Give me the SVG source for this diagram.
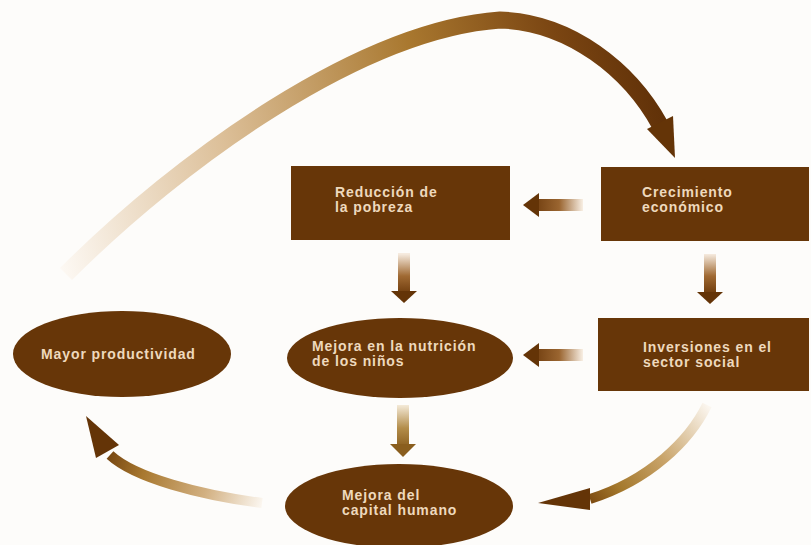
<svg xmlns="http://www.w3.org/2000/svg" width="811" height="545" viewBox="0 0 811 545">
<style>
.box{fill:#673608}
.lbl{font-family:"Liberation Sans",Arial,sans-serif;font-weight:bold;font-size:14px;fill:#eed9bd;letter-spacing:0.9px}
.head{fill:#643407}
</style>
<defs>
<linearGradient id="gArc" gradientUnits="userSpaceOnUse" x1="60" y1="270" x2="675" y2="120">
<stop offset="0" stop-color="#fdf9f4"/>
<stop offset="0.3" stop-color="#dcbf98"/>
<stop offset="0.62" stop-color="#a9782f"/>
<stop offset="0.85" stop-color="#7a4512"/>
<stop offset="1" stop-color="#5e2f07"/>
</linearGradient>
<linearGradient id="gH1" gradientUnits="userSpaceOnUse" x1="583" y1="0" x2="530" y2="0">
<stop offset="0" stop-color="#f8efe4"/>
<stop offset="0.45" stop-color="#9a6530"/>
<stop offset="1" stop-color="#6a380b"/>
</linearGradient>
<linearGradient id="gV1" gradientUnits="userSpaceOnUse" x1="0" y1="254" x2="0" y2="294">
<stop offset="0" stop-color="#f6ebdf"/>
<stop offset="0.55" stop-color="#a06a33"/>
<stop offset="1" stop-color="#6e3b0c"/>
</linearGradient>
<linearGradient id="gV2" gradientUnits="userSpaceOnUse" x1="0" y1="405" x2="0" y2="447">
<stop offset="0" stop-color="#f4ead8"/>
<stop offset="0.55" stop-color="#b38d4a"/>
<stop offset="1" stop-color="#8c6020"/>
</linearGradient>
<linearGradient id="gC1" gradientUnits="userSpaceOnUse" x1="707" y1="405" x2="590" y2="500">
<stop offset="0" stop-color="#fbf6ef"/>
<stop offset="0.45" stop-color="#c9a46a"/>
<stop offset="0.8" stop-color="#a4782c"/>
<stop offset="1" stop-color="#7e4c12"/>
</linearGradient>
<linearGradient id="gC2" gradientUnits="userSpaceOnUse" x1="262" y1="503" x2="107" y2="452">
<stop offset="0" stop-color="#fbf6ef"/>
<stop offset="0.35" stop-color="#d2b081"/>
<stop offset="0.75" stop-color="#a8782f"/>
<stop offset="1" stop-color="#744410"/>
</linearGradient>
</defs>
<rect x="0" y="0" width="811" height="545" fill="#fdfcfa"/>

<g id="connectors">
<!-- big arc: Mayor productividad -> Crecimiento -->
<path d="M 66,274 C 180,160 360,30 500,20 C 570,22 630,70 660,125" fill="none" stroke="url(#gArc)" stroke-width="17"/>
<polygon class="head" points="647,129 673,116 675,158"/>
<!-- Crecimiento -> Reducción -->
<rect x="537" y="199" width="46" height="12" fill="url(#gH1)"/>
<polygon class="head" points="523,205 539,193 539,217"/>
<!-- Inversiones -> Mejora nutrición -->
<rect x="537" y="349" width="46" height="12" fill="url(#gH1)"/>
<polygon class="head" points="523,355 539,343 539,367"/>
<!-- Crecimiento -> Inversiones -->
<rect x="704" y="254" width="12" height="39" fill="url(#gV1)"/>
<polygon class="head" points="697,292 723,292 710,304"/>
<!-- Reducción -> Mejora nutrición -->
<rect x="398" y="253" width="12" height="39" fill="url(#gV1)"/>
<polygon class="head" points="391,291 417,291 404,303"/>
<!-- Mejora nutrición -> Mejora capital humano -->
<rect x="397" y="405" width="12" height="40" fill="url(#gV2)"/>
<polygon points="390,444 416,444 403,457" fill="#8a5e1e"/>
<!-- Inversiones -> Mejora capital humano -->
<path d="M 707,405 C 690,440 650,480 590,499" fill="none" stroke="url(#gC1)" stroke-width="10"/>
<polygon class="head" points="538,503 590,488 590,510"/>
<!-- Mejora capital humano -> Mayor productividad -->
<path d="M 262,503 C 200,495 135,478 110,455" fill="none" stroke="url(#gC2)" stroke-width="10"/>
<polygon class="head" points="86,416 96,458 119,445"/>
</g>

<g id="reduccion">
<rect class="box" x="291" y="166" width="219" height="74"/>
<text class="lbl" x="335" y="197">Reducción de</text>
<text class="lbl" x="335" y="212">la pobreza</text>
</g>
<g id="crecimiento">
<rect class="box" x="601" y="167" width="208" height="74"/>
<text class="lbl" x="642" y="197">Crecimiento</text>
<text class="lbl" x="642" y="212">económico</text>
</g>
<g id="inversiones">
<rect class="box" x="598" y="318" width="211" height="73"/>
<text class="lbl" x="643" y="352">Inversiones en el</text>
<text class="lbl" x="643" y="367">sector social</text>
</g>
<g id="mayor">
<ellipse class="box" cx="122" cy="354" rx="109" ry="43"/>
<text class="lbl" x="41" y="359">Mayor productividad</text>
</g>
<g id="nutricion">
<ellipse class="box" cx="400" cy="358" rx="113" ry="40"/>
<text class="lbl" x="312" y="351">Mejora en la nutrición</text>
<text class="lbl" x="312" y="366">de los niños</text>
</g>
<g id="capital">
<ellipse class="box" cx="399" cy="506" rx="114" ry="42"/>
<text class="lbl" x="342" y="500">Mejora del</text>
<text class="lbl" x="342" y="515">capital humano</text>
</g>
</svg>
